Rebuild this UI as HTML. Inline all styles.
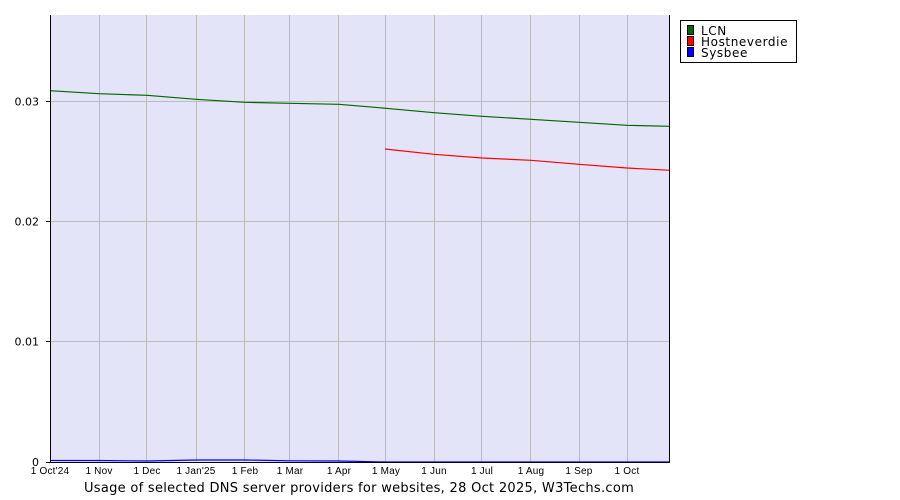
<!DOCTYPE html>
<html><head><meta charset="utf-8"><style>
html,body{margin:0;padding:0;background:#fff;}
svg{display:block;}
</style></head><body>
<svg width="900" height="500" xmlns="http://www.w3.org/2000/svg">
<rect x="50" y="15" width="620" height="447" fill="#e4e4f8"/>
<g stroke="#bbbbbb" stroke-width="1">
<line x1="50" y1="101.5" x2="670" y2="101.5"/>
<line x1="50" y1="221.5" x2="670" y2="221.5"/>
<line x1="50" y1="341.5" x2="670" y2="341.5"/>
<line x1="99.5" y1="15" x2="99.5" y2="462"/>
<line x1="146.5" y1="15" x2="146.5" y2="462"/>
<line x1="196.5" y1="15" x2="196.5" y2="462"/>
<line x1="244.5" y1="15" x2="244.5" y2="462"/>
<line x1="289.5" y1="15" x2="289.5" y2="462"/>
<line x1="338.5" y1="15" x2="338.5" y2="462"/>
<line x1="385.5" y1="15" x2="385.5" y2="462"/>
<line x1="434.5" y1="15" x2="434.5" y2="462"/>
<line x1="481.5" y1="15" x2="481.5" y2="462"/>
<line x1="530.5" y1="15" x2="530.5" y2="462"/>
<line x1="579.5" y1="15" x2="579.5" y2="462"/>
<line x1="627.5" y1="15" x2="627.5" y2="462"/>
</g>
<polyline fill="none" stroke="#006600" stroke-width="1.2" points="50,90.7 99,93.7 147,95.3 196,99.3 245,102.3 290,103.3 339,104.3 386,108.3 434,112.7 482,116.3 531,119.3 579,122.3 627,125.3 670,126.3"/>
<polyline fill="none" stroke="#ff0000" stroke-width="1.2" points="385,149 434,154.3 482,158 531,160.3 579,164.3 627,168 670,170.3"/>
<polyline fill="none" stroke="#0000ff" stroke-width="1.2" points="50,460.5 99,460.5 147,461 196,460 245,460 290,460.8 339,461 386,462 434,462 670,462"/>
<g stroke="#000" stroke-width="1">
<line x1="50.5" y1="15" x2="50.5" y2="463"/>
<line x1="669.5" y1="15" x2="669.5" y2="463"/>
<line x1="50" y1="462.5" x2="670" y2="462.5"/>
<line x1="46" y1="101.5" x2="50" y2="101.5"/>
<line x1="46" y1="221.5" x2="50" y2="221.5"/>
<line x1="46" y1="341.5" x2="50" y2="341.5"/>
<line x1="46" y1="462.5" x2="50" y2="462.5"/>
</g>
<g font-family="DejaVu Sans, sans-serif" font-size="11" fill="#000" text-anchor="end">
<text x="39" y="105.5">0.03</text>
<text x="39" y="225.5">0.02</text>
<text x="39" y="345.5">0.01</text>
<text x="39" y="466">0</text>
</g>
<g font-family="Liberation Sans, Arial, sans-serif" font-size="10" fill="#000" text-anchor="middle" letter-spacing="0.2">
<text x="50" y="474">1 Oct'24</text>
<text x="99" y="474">1 Nov</text>
<text x="147" y="474">1 Dec</text>
<text x="196" y="474">1 Jan'25</text>
<text x="245" y="474">1 Feb</text>
<text x="290" y="474">1 Mar</text>
<text x="339" y="474">1 Apr</text>
<text x="386" y="474">1 May</text>
<text x="434" y="474">1 Jun</text>
<text x="482" y="474">1 Jul</text>
<text x="531" y="474">1 Aug</text>
<text x="579" y="474">1 Sep</text>
<text x="627" y="474">1 Oct</text>
</g>
<text x="359" y="492" font-family="DejaVu Sans, sans-serif" font-size="13" fill="#000" text-anchor="middle" letter-spacing="0.29">Usage of selected DNS server providers for websites, 28 Oct 2025, W3Techs.com</text>
<rect x="680.5" y="20.5" width="116" height="42" fill="#fff" stroke="#000" stroke-width="1"/>
<rect x="687.5" y="25.5" width="6" height="9" fill="#006600" stroke="#000" stroke-width="1"/>
<rect x="687.5" y="36.5" width="6" height="9" fill="#ff0000" stroke="#000" stroke-width="1"/>
<rect x="687.5" y="47.5" width="6" height="9" fill="#0000ff" stroke="#000" stroke-width="1"/>
<g font-family="DejaVu Sans, sans-serif" font-size="12" fill="#000" letter-spacing="0.6">
<text x="701" y="35">LCN</text>
<text x="701" y="46">Hostneverdie</text>
<text x="701" y="57">Sysbee</text>
</g>
</svg>
</body></html>
